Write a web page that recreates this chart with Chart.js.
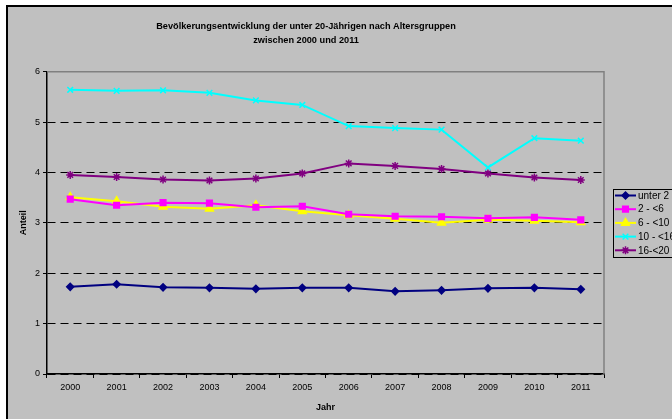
<!DOCTYPE html>
<html>
<head>
  <meta charset="utf-8" />
  <script src="https://cdn.jsdelivr.net/npm/chart.js@4.4.0/dist/chart.umd.min.js"></script>
  <style>
    body{margin:0;background:#fff;width:672px;height:419px;overflow:hidden;}
    #frame{position:absolute;left:6px;top:5px;width:666px;height:414px;background:#c0c0c0;
           border-left:2px solid #000;border-top:2px solid #000;}
    #c{position:absolute;left:0;top:0;}
  </style>
</head>
<body>
<div id="frame"><canvas id="c" width="666" height="414"></canvas></div>

<script>
const years = ['2000','2001','2002','2003','2004','2005','2006','2007','2008','2009','2010','2011'];
const unter2   = [1.73,1.78,1.72,1.71,1.69,1.71,1.71,1.64,1.66,1.70,1.71,1.68];
const age2to6  = [3.47,3.35,3.40,3.39,3.31,3.33,3.17,3.13,3.12,3.09,3.11,3.06];
const age6to10 = [3.51,3.43,3.32,3.28,3.35,3.23,3.15,3.08,3.00,3.06,3.04,3.01];
const age10to16= [5.64,5.62,5.63,5.58,5.43,5.34,4.92,4.88,4.85,4.10,4.68,4.63];
const age16to20= [3.95,3.91,3.86,3.84,3.88,3.98,4.18,4.13,4.07,3.98,3.90,3.85];
const seriesNames = ['unter 2','2 - <6','6 - <10','10 - <16','16-<20'];
const yTicks = [0,1,2,3,4,5,6];

const FONT = "'Liberation Sans', Arial, sans-serif";

function ds(label, data, color, style, r){
  return { label, data, borderColor:color, backgroundColor:color, borderWidth:2,
           pointStyle:style, pointRadius:r, pointBorderWidth:1.5, pointBorderColor:color,
           tension:0 };
}

// gray plot border (top + right) like the Excel plot area
const plotBorder = {
  id:'plotBorder',
  beforeDatasetsDraw(chart){
    const {ctx, chartArea:a} = chart;
    ctx.save();
    ctx.strokeStyle = '#808080'; ctx.lineWidth = 1.5;
    ctx.beginPath();
    ctx.moveTo(a.left, a.top); ctx.lineTo(a.right, a.top); ctx.lineTo(a.right, a.bottom);
    ctx.stroke();
    ctx.restore();
  }
};

// Excel-style legend: line with marker, framed box on the right
const boxLegend = {
  id:'boxLegend',
  afterDraw(chart){
    const ctx = chart.ctx;
    const bx = 605, by = 182, bh = 68, rowH = 13.7, y0 = 188.5;
    ctx.save();
    ctx.strokeStyle = '#000'; ctx.lineWidth = 1;
    ctx.strokeRect(bx + 0.5, by + 0.5, 70, bh);
    ctx.font = '10px ' + FONT;
    ctx.textBaseline = 'middle';
    chart.data.datasets.forEach((d, i) => {
      const y = y0 + i * rowH;
      ctx.strokeStyle = d.borderColor; ctx.lineWidth = 2;
      ctx.beginPath(); ctx.moveTo(607, y); ctx.lineTo(628, y); ctx.stroke();
      ctx.fillStyle = d.backgroundColor; ctx.lineWidth = 1.5;
      Chart.helpers.drawPoint(ctx, { pointStyle:d.pointStyle, radius:d.pointRadius, rotation:0, borderWidth:1.5 }, 617.5, y);
      ctx.fillStyle = '#000';
      ctx.fillText(seriesNames[i], 630, y + 0.5);
    });
    ctx.restore();
  }
};

new Chart(document.getElementById('c'), {
  type:'line',
  data:{
    labels: years,
    datasets:[
      ds(seriesNames[0], unter2,   '#000080', 'rectRot', 3.5),
      ds(seriesNames[1], age2to6,  '#FF00FF', 'rect', 4),
      ds(seriesNames[2], age6to10, '#FFFF00', 'triangle', 4.5),
      ds(seriesNames[3], age10to16,'#00FFFF', 'crossRot', 4),
      ds(seriesNames[4], age16to20,'#800080', 'star', 4)
    ]
  },
  options:{
    responsive:false, animation:false, devicePixelRatio:1,
    layout:{ padding:{ left:0, right:70, top:0, bottom:0 } },
    plugins:{
      legend:{ display:false },
      tooltip:{ enabled:false },
      title:{
        display:true,
        text:['Bevölkerungsentwicklung der unter 20-Jährigen nach Altersgruppen','zwischen 2000 und 2011'],
        color:'#000', font:{ family:FONT, size:9.2, weight:'bold', lineHeight:1.45 },
        padding:{ top:13, bottom:25 }
      }
    },
    scales:{
      x:{
        offset:true,
        grid:{ offset:true, drawOnChartArea:false, color:'#000', tickLength:4, tickWidth:1 },
        border:{ color:'#000', width:1.5 },
        ticks:{ color:'#000', font:{ family:FONT, size:9 }, padding:4, maxRotation:0 },
        title:{ display:true, text:'Jahr', color:'#000', font:{ family:FONT, size:9, weight:'bold' }, padding:{ top:0, bottom:8 } },
        afterFit(s){ s.height = 47; }
      },
      y:{
        min:0, max:6,
        afterBuildTicks(s){ s.ticks = yTicks.map(v => ({ value:v })); },
        grid:{ color:ctx => ctx.tick && ctx.tick.value === 6 ? 'rgba(0,0,0,0)' : '#000',
               tickColor:'#000', tickLength:4, lineWidth:1 },
        border:{ color:'#000', width:1.5, dash:[8,5] },
        ticks:{ color:'#000', font:{ family:FONT, size:9 }, padding:3 },
        title:{ display:true, text:'Anteil', color:'#000', font:{ family:FONT, size:9, weight:'bold' }, padding:{ top:10, bottom:0 } },
        afterFit(s){ s.width = 39; }
      }
    }
  },
  plugins:[plotBorder, boxLegend]
});
</script>
</body>
</html>
